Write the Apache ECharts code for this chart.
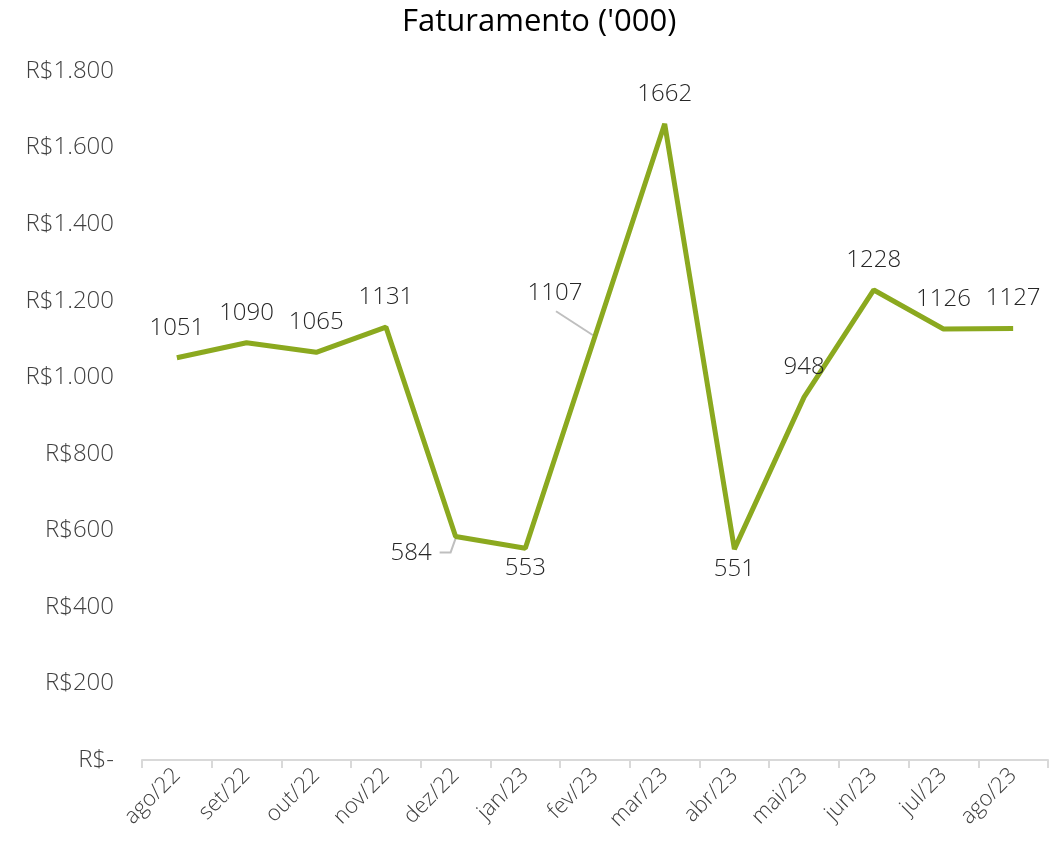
<!DOCTYPE html>
<html><head><meta charset="utf-8">
<script src="https://cdn.jsdelivr.net/npm/echarts@6/dist/echarts.min.js"></script>
<style>html,body{margin:0;padding:0;background:#fff}#c{width:1058px;height:848px}</style>
</head><body><div id="c"></div>
<script>
const categories = ['ago/22','set/22','out/22','nov/22','dez/22','jan/23','fev/23','mar/23','abr/23','mai/23','jun/23','jul/23','ago/23'];
const values = [1051,1090,1065,1131,584,553,1107,1662,551,948,1228,1126,1127];
const title = "Faturamento ('000)";
const FONT = 'Open Sans';
const fmtY = v => v === 0 ? 'R$-' : 'R$' + v.toLocaleString('pt-BR').replace(',', '.');

// label placement styling (pixel offsets), keyed by category index
const labelOverrides = {
  4: {position:'left', distance: 24, offset:[0,17]},
  5: {position:'bottom', distance: 8},
  6: {position:'top', distance: 20, offset:[-40,-11]},
  8: {position:'bottom', distance: 8}
};
// leader line shapes (pixel offsets from the data point), keyed by category index
const leaderShapes = {
  4: [[-16,16],[-5,16],[0,2]],
  6: [[-39,-25],[-2,-1]]
};
const leaderIdx = Object.keys(leaderShapes).map(Number);

const lineData = values.map((v,i) => {
  const o = {value: v};
  if (labelOverrides[i]) o.label = labelOverrides[i];
  return o;
});

const chart = echarts.init(document.getElementById('c'));
chart.setOption({
  animation: false,
  title: {text: title, left: 397, top: 2, textStyle:{fontFamily: FONT, fontSize: 31, fontWeight: 'normal', color:'#000'}},
  grid: {left: 142, right: 10, top: 71, bottom: 88},
  xAxis: {
    type: 'category', data: categories, boundaryGap: true,
    axisLine: {lineStyle:{color:'#d9d9d9', width: 2}},
    axisTick: {show: true, length: 8, lineStyle:{color:'#d9d9d9', width: 2}},
    axisLabel: {rotate: 45, fontFamily: FONT, fontWeight: 300, fontSize: 22, color:'#404040', margin: 12}
  },
  yAxis: {
    type: 'value', min: 0, max: 1800, interval: 200,
    splitLine: {show: false}, axisLine:{show:false}, axisTick:{show:false},
    axisLabel: {formatter: fmtY, fontFamily: FONT, fontWeight: 300, fontSize: 24, color:'#404040', margin: 28}
  },
  series: [{
    type: 'custom', silent: true, z: 1,
    data: leaderIdx.map(i => [i, values[i]]),
    renderItem: function (params, api) {
      const idx = api.value(0);
      const p = api.coord([idx, api.value(1)]);
      const pts = leaderShapes[idx].map(d => [p[0] + d[0], p[1] + d[1]]);
      return {type: 'polyline', shape: {points: pts}, style: {stroke: '#bfbfbf', lineWidth: 2, fill: null}};
    }
  }, {
    type: 'line', data: lineData, symbol: 'circle', symbolSize: 0.01, showSymbol: true, z: 2,
    itemStyle: {color:'#8BA91F'},
    lineStyle: {color:'#8BA91F', width: 5},
    label: {show: true, position: 'top', distance: 18, fontFamily: FONT, fontWeight: 300, fontSize: 24, color:'#262626'}
  }]
});
</script></body></html>
